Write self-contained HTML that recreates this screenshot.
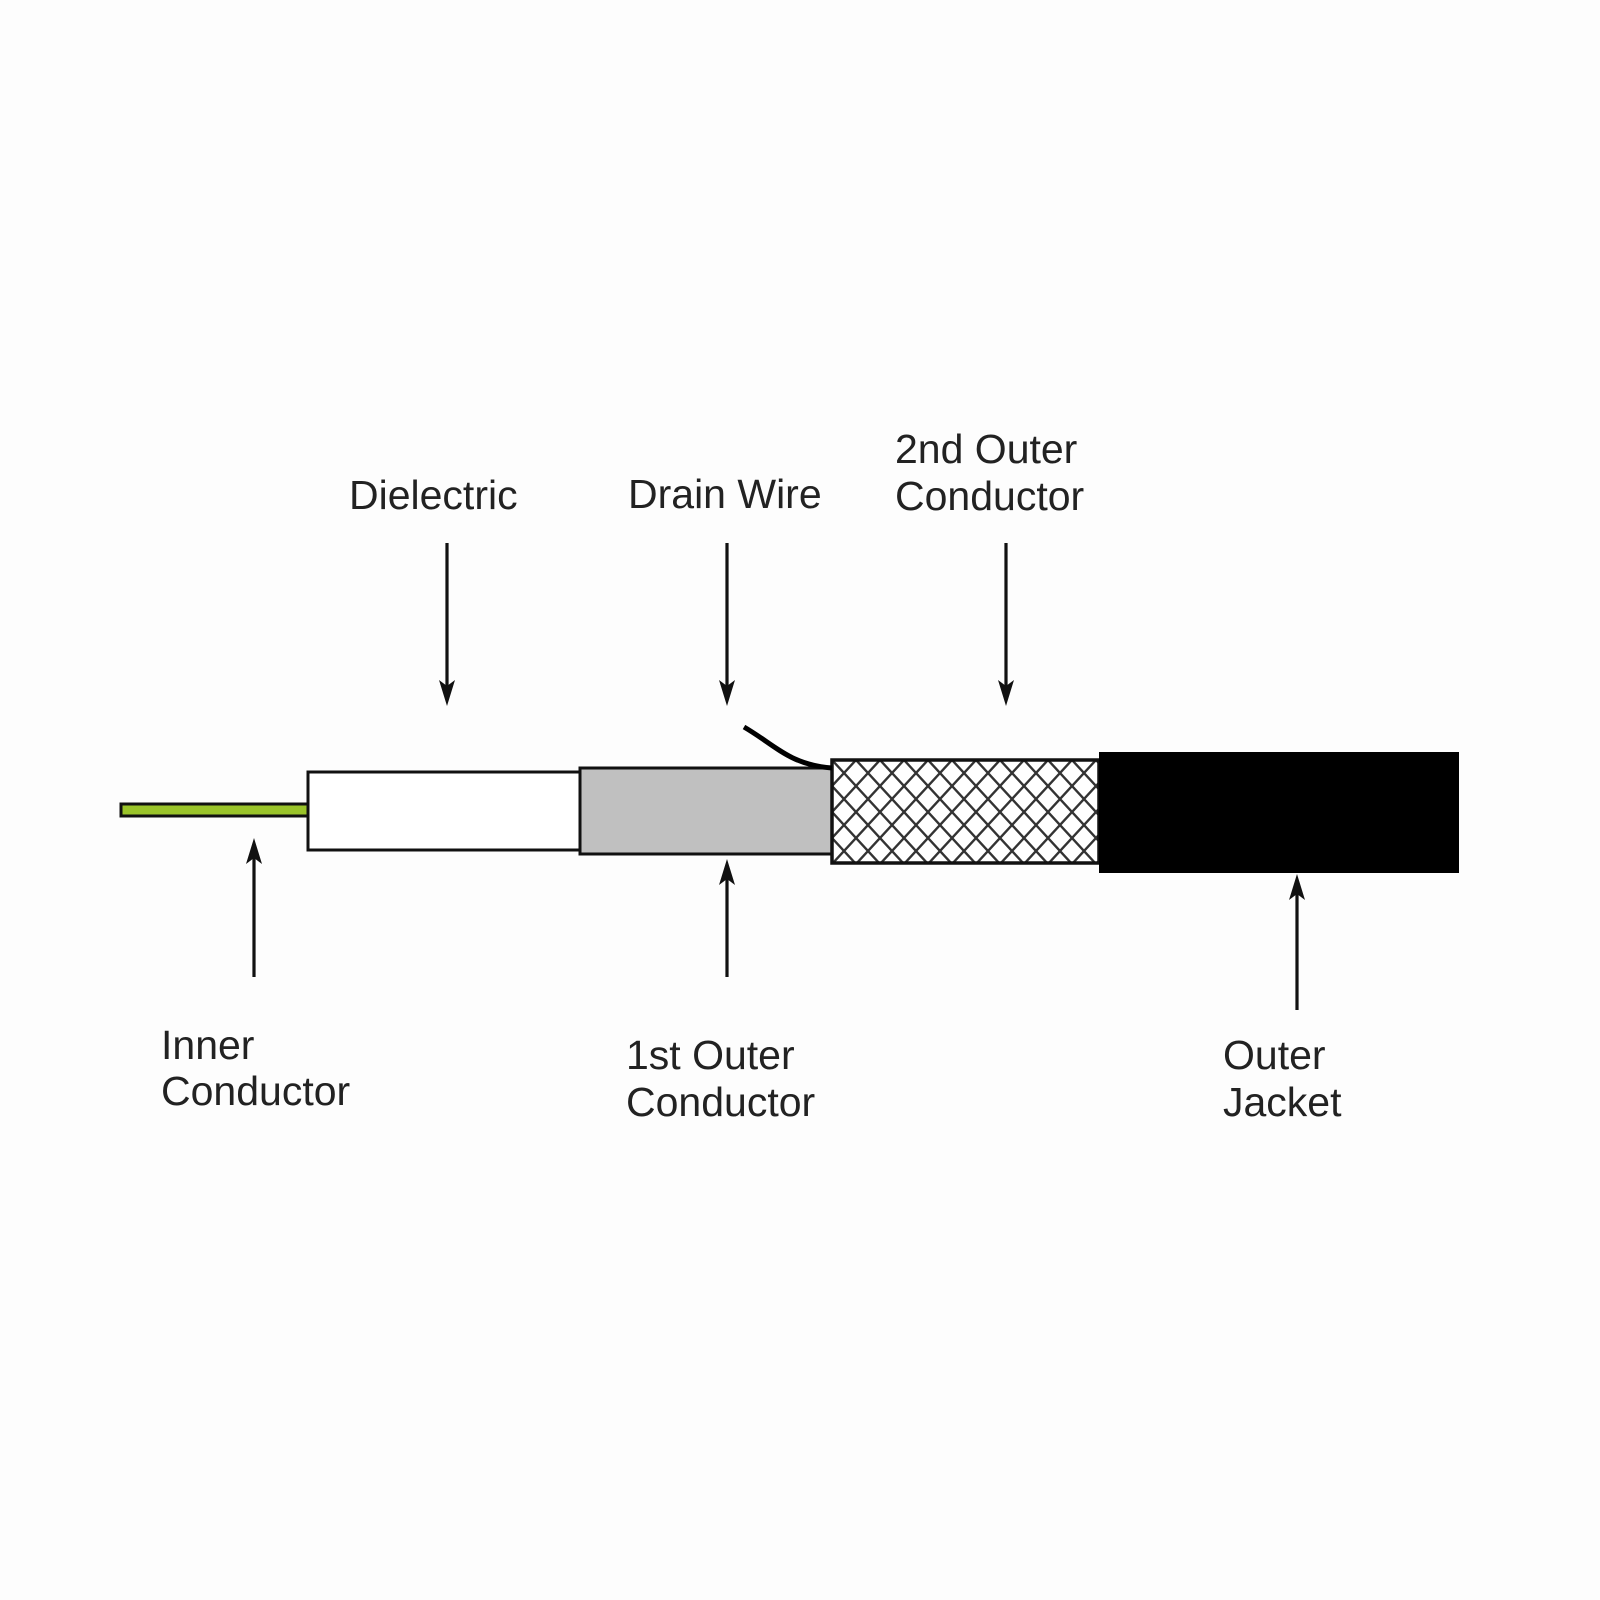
<!DOCTYPE html>
<html><head><style>
html,body{margin:0;padding:0;background:#fdfdfd;}
svg{display:block}
text{font-family:"Liberation Sans",Arial,sans-serif;font-size:41px;fill:#222;}
</style></head><body>
<svg width="1600" height="1600" viewBox="0 0 1600 1600" xmlns="http://www.w3.org/2000/svg">
<defs>
<pattern id="br" x="832" y="760" width="24" height="26" patternUnits="userSpaceOnUse">
<rect width="24" height="26" fill="#fff"/>
<path d="M0 0L24 26M24 0L0 26M-12 13L12 39M12 -13L36 13M12 39L36 13M-12 13L12 -13" stroke="#333" stroke-width="2.4" fill="none"/>
</pattern>
</defs>
<rect width="1600" height="1600" fill="#fdfdfd"/>
<rect x="121" y="804" width="188" height="12" fill="#9ac42a" stroke="#111" stroke-width="3"/>
<rect x="308" y="772" width="272" height="78" fill="#fff" stroke="#111" stroke-width="3"/>
<rect x="580" y="768" width="252" height="86" fill="#c0c0c0" stroke="#111" stroke-width="3"/>
<rect x="832" y="760" width="267" height="103" fill="url(#br)" stroke="#111" stroke-width="3.5"/>
<rect x="1099" y="752" width="360" height="121" fill="#000"/>
<path d="M744 727 C775 745 790 765 832 768" stroke="#000" stroke-width="5" fill="none"/>
<g stroke="#111" stroke-width="3.2">
<line x1="447" y1="543" x2="447" y2="690"/>
<line x1="727" y1="543" x2="727" y2="690"/>
<line x1="1006" y1="543" x2="1006" y2="690"/>
<line x1="254" y1="977" x2="254" y2="852"/>
<line x1="727" y1="977" x2="727" y2="873"/>
<line x1="1297" y1="1010" x2="1297" y2="888"/>
</g>
<g fill="#111">
<path d="M439 680L447 706L455 680L447 686Z"/>
<path d="M719 680L727 706L735 680L727 686Z"/>
<path d="M998 680L1006 706L1014 680L1006 686Z"/>
<path d="M246 864L254 838L262 864L254 858Z"/>
<path d="M719 885L727 859L735 885L727 879Z"/>
<path d="M1289 900L1297 874L1305 900L1297 894Z"/>
</g>
<text x="349" y="509">Dielectric</text>
<text x="628" y="508">Drain Wire</text>
<text x="895" y="463">2nd Outer</text>
<text x="895" y="510">Conductor</text>
<text x="161" y="1059">Inner</text>
<text x="161" y="1105">Conductor</text>
<text x="626" y="1069">1st Outer</text>
<text x="626" y="1116">Conductor</text>
<text x="1223" y="1069">Outer</text>
<text x="1223" y="1116">Jacket</text>
</svg>
</body></html>
